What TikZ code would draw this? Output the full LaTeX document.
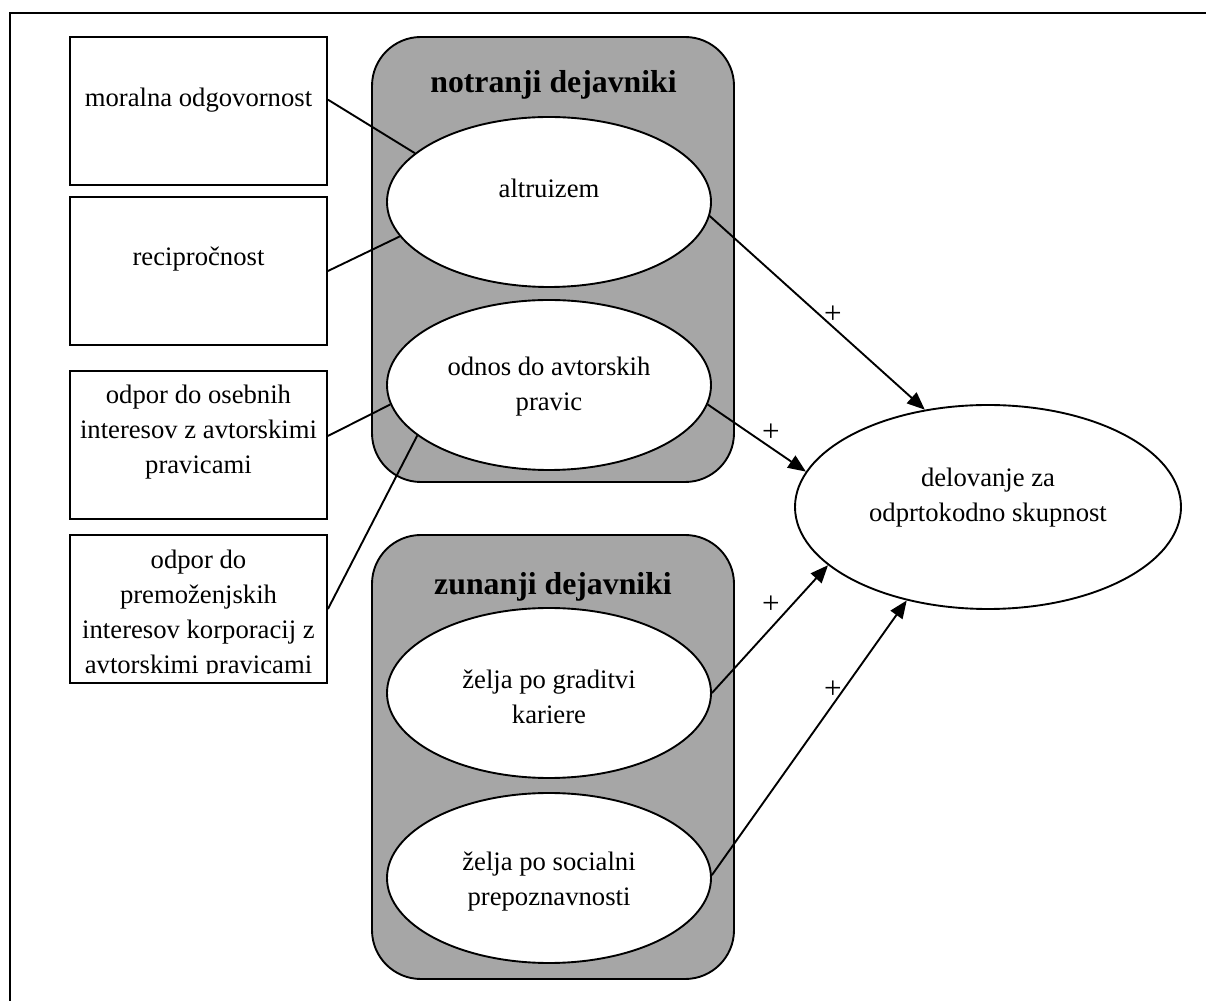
\documentclass[tikz,border=0pt]{standalone}
\usepackage{fontspec}
\setmainfont{Liberation Serif}
\usetikzlibrary{arrows.meta,shapes.geometric}
\definecolor{panelgray}{RGB}{166,166,166}
\tikzset{
  px/.style={x=0.45pt,y=-0.45pt},
  line/.style={line width=0.85pt},
  txt/.style={font=\fontsize{12}{15.75}\selectfont, align=center, inner sep=0pt},
  ttl/.style={font=\fontsize{14.3}{17}\selectfont\bfseries, inner sep=0pt},
  leftbox/.style={draw, line width=0.85pt, fill=white, minimum width=115.65pt, minimum height=66.6pt, inner sep=0pt},
  panel/.style={draw, line width=0.85pt, fill=panelgray, rounded corners=22pt, minimum width=162.9pt, minimum height=200pt, inner sep=0pt},
  factor/.style={draw, ellipse, line width=0.85pt, fill=white, minimum width=145.8pt, minimum height=76.5pt, inner sep=0pt},
  goal/.style={draw, ellipse, line width=0.85pt, fill=white, minimum width=173.7pt, minimum height=91.8pt, inner sep=0pt},
  effect/.style={line width=0.85pt, -{Triangle[length=8pt,width=6.5pt]}},
  sign/.style={font=\fontsize{14}{16}\selectfont, inner sep=0pt},
}
\begin{document}
\begin{tikzpicture}[px]
\useasboundingbox (0,0) rectangle (1206,1001);
% outer frame (only top and left edges visible)
\draw[line width=1pt] (10,1001) -- (10,13) -- (1206,13);

% panels
\node[panel, minimum height=200.25pt] (inner) at (553,259.5) {};
\node[panel, minimum height=199.8pt] (outer) at (553,757) {};
\node[ttl] (innerT) at (553.5,85) {notranji dejavniki};
\node[ttl] (outerT) at (553,587) {zunanji dejavniki};

% left boxes
\node[leftbox] (b1) at (198.5,111) {};
\node[leftbox] (b2) at (198.5,271) {};
\node[leftbox] (b3) at (198.5,445) {};
\node[leftbox] (b4) at (198.5,609) {};
\node[txt] (t1) at (198.5,100) {moralna odgovornost};
\node[txt] (t2) at (198.5,259) {recipročnost};
\node[txt] (t3) at (198.5,432) {odpor do osebnih\\interesov z avtorskimi\\pravicami};
\begin{scope}
\clip (72,537) rectangle (325,674);
\node[txt] (t4) at (198.5,614.5) {odpor do\\premoženjskih\\interesov korporacij z\\avtorskimi pravicami};
\end{scope}

% ellipses
\node[factor] (alt) at (549,202) {};
\node[factor] (odn) at (549,385) {};
\node[factor] (kar) at (549,693) {};
\node[factor] (soc) at (549,878) {};
\node[goal] (del) at (988,507) {};
\node[txt] (altT) at (549,188) {altruizem};
\node[txt] (odnT) at (549,387) {odnos do avtorskih\\pravic};
\node[txt] (karT) at (549,697) {želja po graditvi\\kariere};
\node[txt] (socT) at (549,882) {želja po socialni\\prepoznavnosti};
\node[txt] (delT) at (988,498) {delovanje za\\odprtokodno skupnost};

% connectors from boxes
\draw[line] (b1.5) -- (alt.160);
\draw[line] (b2.east) -- (alt.193);
\draw[line] (b3.4) -- (odn.187);
\draw[line] (b4.east) -- (odn.201);

% effects
\draw[effect] (alt.-5) -- (del.123);
\draw[effect] (odn.-7) -- (del.169);
\draw[effect] (kar.east) -- (del.200);
\draw[effect] (soc.1) -- (del.229);

\node[sign] (p1) at (833,315) {+};
\node[sign] (p2) at (771,433) {+};
\node[sign] (p3) at (771,605) {+};
\node[sign] (p4) at (833,690) {+};
\end{tikzpicture}
\end{document}
